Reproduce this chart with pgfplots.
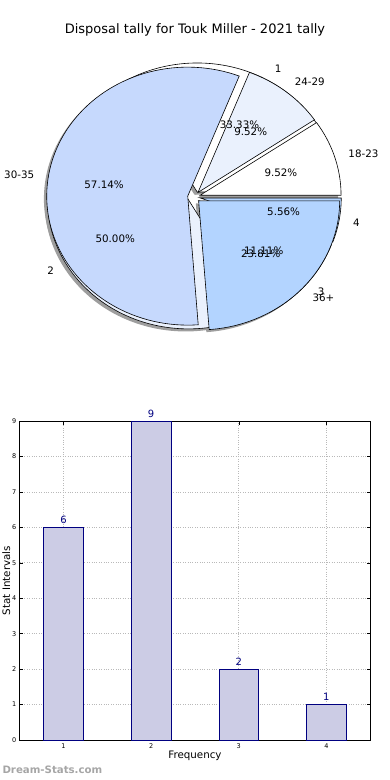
\documentclass[border=0pt]{standalone}
\usepackage{pgfplots}
\pgfplotsset{compat=1.18}
\usepackage{fontspec}
\setmainfont{DejaVu Sans}
\definecolor{cA}{HTML}{FFFFFF}
\definecolor{cB}{HTML}{EAF1FD}
\definecolor{cC}{HTML}{C6D9FD}
\definecolor{cD}{HTML}{B3D4FF}
\definecolor{barfill}{HTML}{CCCCE5}
\definecolor{navyc}{HTML}{000080}
\newcommand{\pieex}{0.045}
\newcommand{\pielabfont}{\fontsize{10.3}{12}\selectfont}
% \pieslice{start count}{end count}{total}{style}{dx}{dy}
\newcommand{\pieslice}[6]{%
  \pgfmathsetmacro{\pA}{360*#1/#3}%
  \pgfmathsetmacro{\pB}{360*#2/#3}%
  \pgfmathsetmacro{\pM}{(\pA+\pB)/2}%
  \pgfmathsetmacro{\pX}{\pieex*cos(\pM)+#5}%
  \pgfmathsetmacro{\pY}{\pieex*sin(\pM)+#6}%
  \edef\pietmp{\noexpand\addplot[#4, domain=\pA:\pB, samples=90] ({\pX+cos(x)},{\pY+sin(x)}) -- (axis cs:\pX,\pY) -- cycle;}%
  \pietmp
}
% \pielabel{start}{end}{total}{label}{pct}
\newcommand{\pielabel}[5]{%
  \pgfmathsetmacro{\pM}{180*(#1+#2)/#3}%
  \pgfmathsetmacro{\pC}{cos(\pM)}\pgfmathsetmacro{\pS}{sin(\pM)}%
  \pgfmathsetmacro{\lX}{(\pieex+1.1)*\pC}\pgfmathsetmacro{\lY}{(\pieex+1.1)*\pS}%
  \pgfmathsetmacro{\qX}{(\pieex+0.6)*\pC}\pgfmathsetmacro{\qY}{(\pieex+0.6)*\pS}%
  \ifdim\pC pt>0pt \def\anc{west}\else\def\anc{east}\fi
  \edef\pietmp{\noexpand\node[anchor=\anc, inner sep=0pt, font=\noexpand\pielabfont] at (axis cs:\lX,\lY) {\unexpanded{#4}};
     \noexpand\node[inner sep=0pt, font=\noexpand\pielabfont] at (axis cs:\qX,\qY) {\unexpanded{#5}};}%
  \pietmp
}
\begin{document}
\begin{tikzpicture}
\useasboundingbox (0,0) rectangle (390pt,780pt);
\node[font=\fontsize{13}{15}\selectfont] at (195pt,750pt) {Disposal tally for Touk Miller - 2021 tally};
% ---------- pie charts ----------
\begin{axis}[at={(194pt,583pt)}, anchor=center, x=141pt, y=129pt,
  xmin=-1.4, xmax=1.4, ymin=-1.3, ymax=1.3, axis lines=none, clip=false, enlargelimits=false]
% frequency pie: 1=6, 2=9, 3=2, 4=1 (total 18)
% age pie: 18-23=2, 24-29=2, 30-35=12, 36+=5 (total 21)
% shadows
\pieslice{0}{6}{18}{fill=black!38, draw=none}{-0.02}{-0.02}
\pieslice{6}{15}{18}{fill=black!38, draw=none}{-0.02}{-0.02}
\pieslice{15}{17}{18}{fill=black!38, draw=none}{-0.02}{-0.02}
\pieslice{17}{18}{18}{fill=black!38, draw=none}{-0.02}{-0.02}
\pieslice{0}{2}{21}{fill=black!38, draw=none}{-0.02}{-0.02}
\pieslice{2}{4}{21}{fill=black!38, draw=none}{-0.02}{-0.02}
\pieslice{4}{16}{21}{fill=black!38, draw=none}{-0.02}{-0.02}
\pieslice{16}{21}{21}{fill=black!38, draw=none}{-0.02}{-0.02}
% frequency pie wedges
\pieslice{0}{6}{18}{fill=cA, draw=black, line width=0.6pt}{0}{0}
\pieslice{6}{15}{18}{fill=cB, draw=black, line width=0.6pt}{0}{0}
\pieslice{15}{17}{18}{fill=cC, draw=black, line width=0.6pt}{0}{0}
\pieslice{17}{18}{18}{fill=cD, draw=black, line width=0.6pt}{0}{0}
% age pie wedges
\pieslice{0}{2}{21}{fill=cA, draw=black, line width=0.6pt}{0}{0}
\pieslice{2}{4}{21}{fill=cB, draw=black, line width=0.6pt}{0}{0}
\pieslice{4}{16}{21}{fill=cC, draw=black, line width=0.6pt}{0}{0}
\pieslice{16}{21}{21}{fill=cD, draw=black, line width=0.6pt}{0}{0}
% labels
\pielabel{0}{6}{18}{1}{33.33\%}
\pielabel{6}{15}{18}{2}{50.00\%}
\pielabel{15}{17}{18}{3}{11.11\%}
\pielabel{17}{18}{18}{4}{5.56\%}
\pielabel{0}{2}{21}{18-23}{9.52\%}
\pielabel{2}{4}{21}{24-29}{9.52\%}
\pielabel{4}{16}{21}{30-35}{57.14\%}
\pielabel{16}{21}{21}{36+}{23.81\%}
\end{axis}
% ---------- bar chart ----------
\begin{axis}[at={(19.7pt,40pt)}, anchor=south west, scale only axis,
  width=350.5pt, height=319pt,
  xmin=0.5, xmax=4.5, ymin=0, ymax=9,
  xtick={1,2,3,4}, ytick={0,1,2,3,4,5,6,7,8,9},
  tick align=inside, major tick length=3.5pt,
  tick style={black, line width=0.5pt},
  axis line style={line width=0.8pt},
  grid=major, grid style={dotted, gray!55, line width=0.7pt},
  /pgf/number format/assume math mode=true,
  tick label style={font=\fontsize{6.5}{7}\selectfont},
  xlabel={Frequency}, ylabel={Stat Intervals},
  label style={font=\fontsize{10.3}{12}\selectfont},
  xlabel style={yshift=4pt},
  ylabel style={yshift=-5pt},
  clip=false]
\addplot[ybar, bar width=0.45, fill=barfill, draw=navyc, line width=0.6pt,
  nodes near coords, nodes near coords style={text=navyc, font=\fontsize{10}{12}\selectfont, inner sep=3.5pt}]
  coordinates {(1,6) (2,9) (3,2) (4,1)};
\end{axis}
\node[anchor=west, text=gray!70, font=\bfseries\fontsize{10.2}{12}\selectfont] at (-1pt,10pt) {Dream-Stats.com};
\end{tikzpicture}
\end{document}
